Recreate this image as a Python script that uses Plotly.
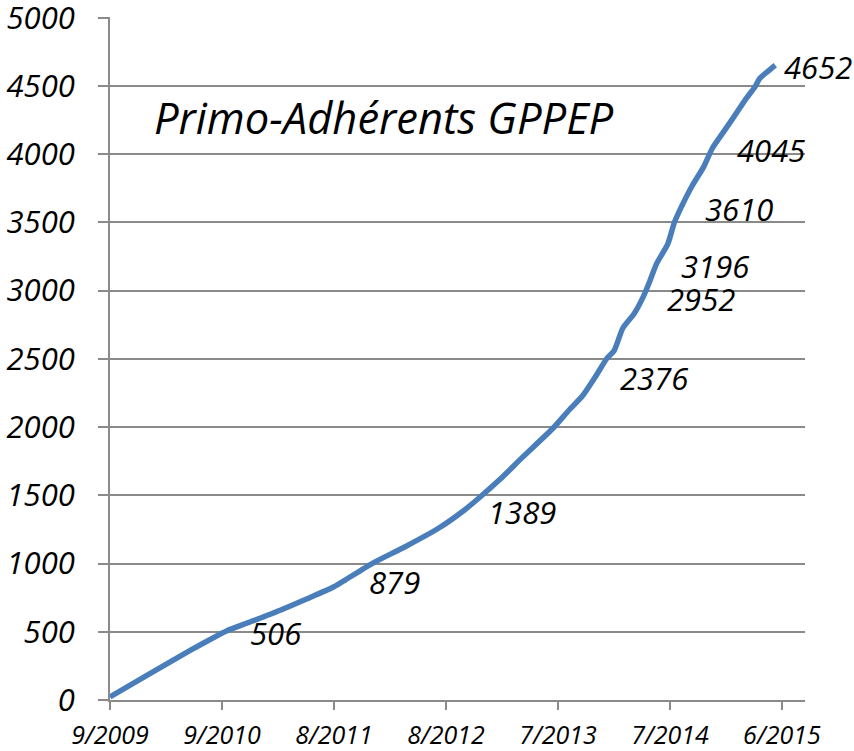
import plotly.graph_objects as go

# x = weeks since 9/2009 (category-like axis, a tick label every 50 points)
weeks = [0, 18, 36, 50, 52, 63, 76, 88, 100, 105, 117, 132, 147, 158, 165, 174,
         184, 198, 205, 211, 217, 222, 225, 229, 234, 238, 241, 244, 249, 252, 255,
         260, 265, 269, 274, 278, 284, 288, 290, 294, 297]
members = [22, 195, 365, 490, 506, 575, 658, 742, 830, 879, 1000, 1125, 1262, 1389,
           1484, 1615, 1776, 1995, 2125, 2229, 2376, 2507, 2558, 2726, 2830, 2952, 3069,
           3196, 3340, 3500, 3610, 3770, 3905, 4045, 4165, 4260, 4407, 4494, 4553, 4610,
           4652]

label_values = [506, 879, 1389, 2376, 2952, 3196, 3610, 4045, 4652]

tick_positions = [0, 50, 100, 150, 200, 250, 300]
tick_labels = ["9/2009", "9/2010", "8/2011", "8/2012", "7/2013", "7/2014", "6/2015"]

y_ticks = list(range(0, 5001, 500))

title_text = "Primo-Adhérents GPPEP"

FONT = "Open Sans"
GRID = "#8a8a8a"
BLUE = "#4a7ebb"

fig = go.Figure()
fig.add_trace(go.Scatter(
    x=weeks, y=members, mode="lines",
    line=dict(color=BLUE, width=5.5, shape="spline", smoothing=0.6),
    hoverinfo="skip", showlegend=False,
))

lookup = dict(zip(members, weeks))
annotations = []
for i, v in enumerate(label_values):
    annotations.append(dict(
        x=lookup[v], y=v, xref="x", yref="y", text=str(v), showarrow=False,
        xanchor="left", yanchor="middle",
        xshift=7 if i == len(label_values) - 1 else 22, yshift=-2,
        font=dict(family=FONT, size=31, color="#000000", style="italic"),
    ))
annotations.append(dict(
    x=0.061, y=4265, xref="paper", yref="y", text=title_text, showarrow=False,
    xanchor="left", yanchor="middle",
    font=dict(family=FONT, size=43.5, color="#000000", style="italic"),
))

fig.update_layout(
    width=854, height=751,
    margin=dict(l=110, r=49, t=17, b=51),
    paper_bgcolor="white", plot_bgcolor="white",
    annotations=annotations,
    xaxis=dict(
        range=[0, 310.3], tickmode="array", tickvals=tick_positions, ticktext=tick_labels,
        showgrid=False, zeroline=False, showline=True, linecolor=GRID, linewidth=2,
        ticks="outside", ticklen=8, tickwidth=2, tickcolor=GRID,
        tickfont=dict(family=FONT, size=25, color="#000000", style="italic"),
        ticklabelstandoff=4, automargin=False, ticklabeloverflow="allow",
    ),
    yaxis=dict(
        range=[0, 5005], tickmode="array", tickvals=y_ticks,
        showgrid=True, gridcolor=GRID, gridwidth=2, zeroline=False,
        showline=True, linecolor=GRID, linewidth=2,
        ticks="outside", ticklen=10, tickwidth=2, tickcolor=GRID,
        tickfont=dict(family=FONT, size=31, color="#000000", style="italic"),
        ticklabelstandoff=17, automargin=False, ticklabeloverflow="allow",
    ),
)

fig.write_html("out.html", config={"displayModeBar": False},
               post_script="document.body.style.margin='0';")
